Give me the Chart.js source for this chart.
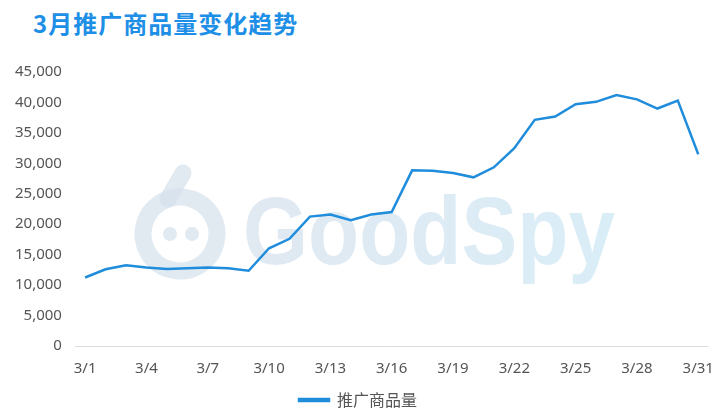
<!DOCTYPE html>
<html>
<head>
<meta charset="utf-8">
<script src="https://cdn.jsdelivr.net/npm/chart.js@4"></script>
<style>
  html, body { margin: 0; padding: 0; background: #fff; }
  #wrap { position: relative; width: 720px; height: 418px; }
  #title {
    position: absolute; left: 33px; top: 5px;
    font: bold 24px "Noto Sans CJK SC", "Noto Sans", sans-serif;
    color: #1e8fe6; letter-spacing: 1px;
  }
  canvas { position: absolute; left: 0; top: 0; }
</style>
</head>
<body>
<div id="wrap">
  <div id="title">3月推广商品量变化趋势</div>
  <canvas id="chart" width="720" height="418"></canvas>
</div>
<script>
const days = [];
for (let d = 1; d <= 31; d++) days.push('3/' + d);

const seriesName = '推广商品量';
const values = [
    11250, 12600, 13250, 12900, 12650, 12750, 12900, 12750, 12350, 16050,
    17600, 21250, 21600, 20650, 21600, 22000, 28850, 28800, 28400, 27700,
    29350, 32500, 37150, 37700, 39700, 40100, 41200, 40500, 39000, 40300,
    31500
];

const yMax = 45000;
const yStep = 5000;

// faint GoodSpy watermark behind the line
const watermark = {
    id: 'watermark',
    beforeDatasetsDraw(chart) {
        const ctx = chart.ctx;
        ctx.save();
        const c1 = 'rgba(212,223,235,0.7)';
        // logo ring
        ctx.strokeStyle = c1;
        ctx.lineWidth = 17;
        ctx.lineCap = 'round';
        ctx.beginPath();
        ctx.arc(180, 234, 37, -Math.PI * 0.42, Math.PI * 1.55);
        ctx.stroke();
        ctx.beginPath();
        ctx.moveTo(168, 199);
        ctx.lineTo(183, 173);
        ctx.stroke();
        ctx.fillStyle = c1;
        ctx.beginPath(); ctx.arc(170, 234, 7, 0, Math.PI * 2); ctx.fill();
        ctx.beginPath(); ctx.arc(192, 234, 7, 0, Math.PI * 2); ctx.fill();
        // text
        ctx.font = 'bold 96px "Liberation Sans", sans-serif';
        ctx.textBaseline = 'alphabetic';
        const w = ctx.measureText('GoodSpy').width;
        ctx.translate(243, 264);
        ctx.scale(372 / w, 1);
        const g = ctx.createLinearGradient(0, 0, w, 0);
        g.addColorStop(0, c1);
        g.addColorStop(1, 'rgba(205,232,245,0.75)');
        ctx.fillStyle = g;
        ctx.fillText('GoodSpy', 0, 0);
        ctx.restore();
    }
};

const ctx = document.getElementById('chart').getContext('2d');
new Chart(ctx, {
    type: 'line',
    data: {
        labels: days,
        datasets: [{
            label: seriesName,
            data: values,
            borderColor: '#1f8ddb',
            backgroundColor: '#1f8ddb',
            borderWidth: 2.5,
            pointRadius: 0,
            tension: 0
        }]
    },
    options: {
        responsive: false,
        animation: false,
        layout: { padding: { top: 72, left: 2, right: 6, bottom: 0 } },
        plugins: {
            legend: {
                position: 'bottom',
                labels: {
                    font: { size: 16, family: '"Noto Sans CJK SC", sans-serif' },
                    color: '#555',
                    boxWidth: 30,
                    boxHeight: 2,
                    padding: 8
                }
            },
            tooltip: { enabled: false }
        },
        scales: {
            x: {
                offset: true,
                grid: { display: false },
                border: { display: false },
                ticks: {
                    autoSkip: false,
                    maxRotation: 0,
                    padding: 6,
                    color: '#555',
                    font: { size: 15, family: '"Noto Sans", sans-serif' },
                    callback: (v, i) => (i % 3 === 0 ? days[i] : '')
                }
            },
            y: {
                min: 0,
                max: yMax,
                border: { display: false },
                grid: {
                    color: c => (c.tick && c.tick.value === 0 ? '#dcdcdc' : 'transparent'),
                    drawTicks: false
                },
                ticks: {
                    stepSize: yStep,
                    padding: 13,
                    color: '#555',
                    font: { size: 15, family: '"Noto Sans", sans-serif' },
                    callback: v => v.toLocaleString('en-US')
                }
            }
        }
    },
    plugins: [watermark]
});
</script>
</body>
</html>
